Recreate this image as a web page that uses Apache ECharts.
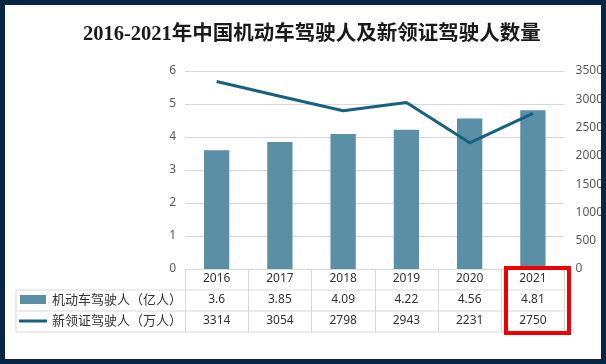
<!DOCTYPE html>
<html><head><meta charset="utf-8">
<script src="https://cdn.jsdelivr.net/npm/echarts@6/dist/echarts.min.js"></script>
<style>html,body{margin:0;padding:0;background:#fff}#c{width:606px;height:364px}</style>
</head><body><div id="c"></div>
<script>
var title = '2016-2021年中国机动车驾驶人及新领证驾驶人数量';
var years = ['2016','2017','2018','2019','2020','2021'];
var driverName = '机动车驾驶人（亿人）';
var drivers = [3.6, 3.85, 4.09, 4.22, 4.56, 4.81];
var newName = '新领证驾驶人（万人）';
var newDrivers = [3314, 3054, 2798, 2943, 2231, 2750];
var leftTicks = {min: 0, max: 6, interval: 1};
var rightTicks = {min: 0, max: 3500, interval: 500};

var gridC = '#d9d9d9', txt = '#595959';
var barC = '#5b8fa5', lineC = '#17617f';
var font = "'Noto Sans','Noto Sans CJK SC',sans-serif";
var chart = echarts.init(document.getElementById('c'), null, {renderer: 'canvas'});

function valAxis(arr, off) {
  return {type: 'category', data: years, position: 'bottom', gridIndex: 0, offset: off,
    axisLine: {show: false}, axisTick: {show: false},
    axisLabel: {margin: 4, color: '#333', fontSize: 12, fontFamily: font,
      formatter: function (v, i) { return String(arr[i]); }}};
}

var L = 16, R = 567, T0 = 269, rowH = 21;
chart.setOption({
  animation: false,
  title: {text: title, left: 78, top: 19,
    textStyle: {fontFamily: "'Liberation Serif','Noto Sans CJK SC',serif", fontWeight: 'bold', fontSize: 20.5, color: '#1a1a1a'}},
  grid: {left: 185, right: 606 - R, top: 71, bottom: 364 - T0},
  xAxis: [
    {type: 'category', data: years, position: 'bottom',
      axisLine: {show: true, lineStyle: {color: gridC}},
      axisTick: {show: true, length: 63, lineStyle: {color: gridC}},
      axisLabel: {margin: 4, color: '#333', fontSize: 12, fontFamily: font}},
    valAxis(drivers, rowH),
    valAxis(newDrivers, rowH * 2)
  ],
  yAxis: [
    {type: 'value', min: leftTicks.min, max: leftTicks.max, interval: leftTicks.interval,
      axisLine: {show: false}, axisTick: {show: false},
      axisLabel: {color: txt, fontSize: 12, fontFamily: font, margin: 9},
      splitLine: {lineStyle: {color: gridC}}},
    {type: 'value', min: rightTicks.min, max: rightTicks.max, interval: rightTicks.interval,
      position: 'right', axisLine: {show: false}, axisTick: {show: false},
      axisLabel: {color: txt, fontSize: 12, fontFamily: font, margin: 11,
        formatter: function (v) { return String(v); }},
      splitLine: {show: false}}
  ],
  series: [
    {name: driverName, type: 'bar', data: drivers, barWidth: '40%', itemStyle: {color: barC}},
    {name: newName, type: 'line', yAxisIndex: 1, data: newDrivers, symbol: 'none',
      lineStyle: {color: lineC, width: 3}, itemStyle: {color: lineC}, z: 5}
  ],
  graphic: [
    {type: 'line', shape: {x1: L, y1: T0 + rowH, x2: R, y2: T0 + rowH}, style: {stroke: gridC, lineWidth: 1}},
    {type: 'line', shape: {x1: L, y1: T0 + rowH * 2, x2: R, y2: T0 + rowH * 2}, style: {stroke: gridC, lineWidth: 1}},
    {type: 'line', shape: {x1: L, y1: T0 + rowH * 3, x2: R, y2: T0 + rowH * 3}, style: {stroke: gridC, lineWidth: 1}},
    {type: 'line', shape: {x1: L, y1: T0 + rowH, x2: L, y2: T0 + rowH * 3}, style: {stroke: gridC, lineWidth: 1}},
    {type: 'rect', shape: {x: 20, y: 295, width: 26, height: 9}, style: {fill: barC}},
    {type: 'text', x: 52, y: 300, style: {text: driverName, fill: '#333', font: '13px ' + font, textVerticalAlign: 'middle'}},
    {type: 'line', shape: {x1: 19, y1: 321, x2: 47, y2: 321}, style: {stroke: lineC, lineWidth: 3}},
    {type: 'text', x: 52, y: 321, style: {text: newName, fill: '#333', font: '13px ' + font, textVerticalAlign: 'middle'}},
    {type: 'rect', z: 100, shape: {x: 506, y: 268, width: 63, height: 65}, style: {fill: null, stroke: '#ee0000', lineWidth: 4}},
    {type: 'rect', z: 100, shape: {x: 0, y: 0, width: 606, height: 364}, style: {fill: null, stroke: '#0a2647', lineWidth: 10}}
  ]
});
</script></body></html>
